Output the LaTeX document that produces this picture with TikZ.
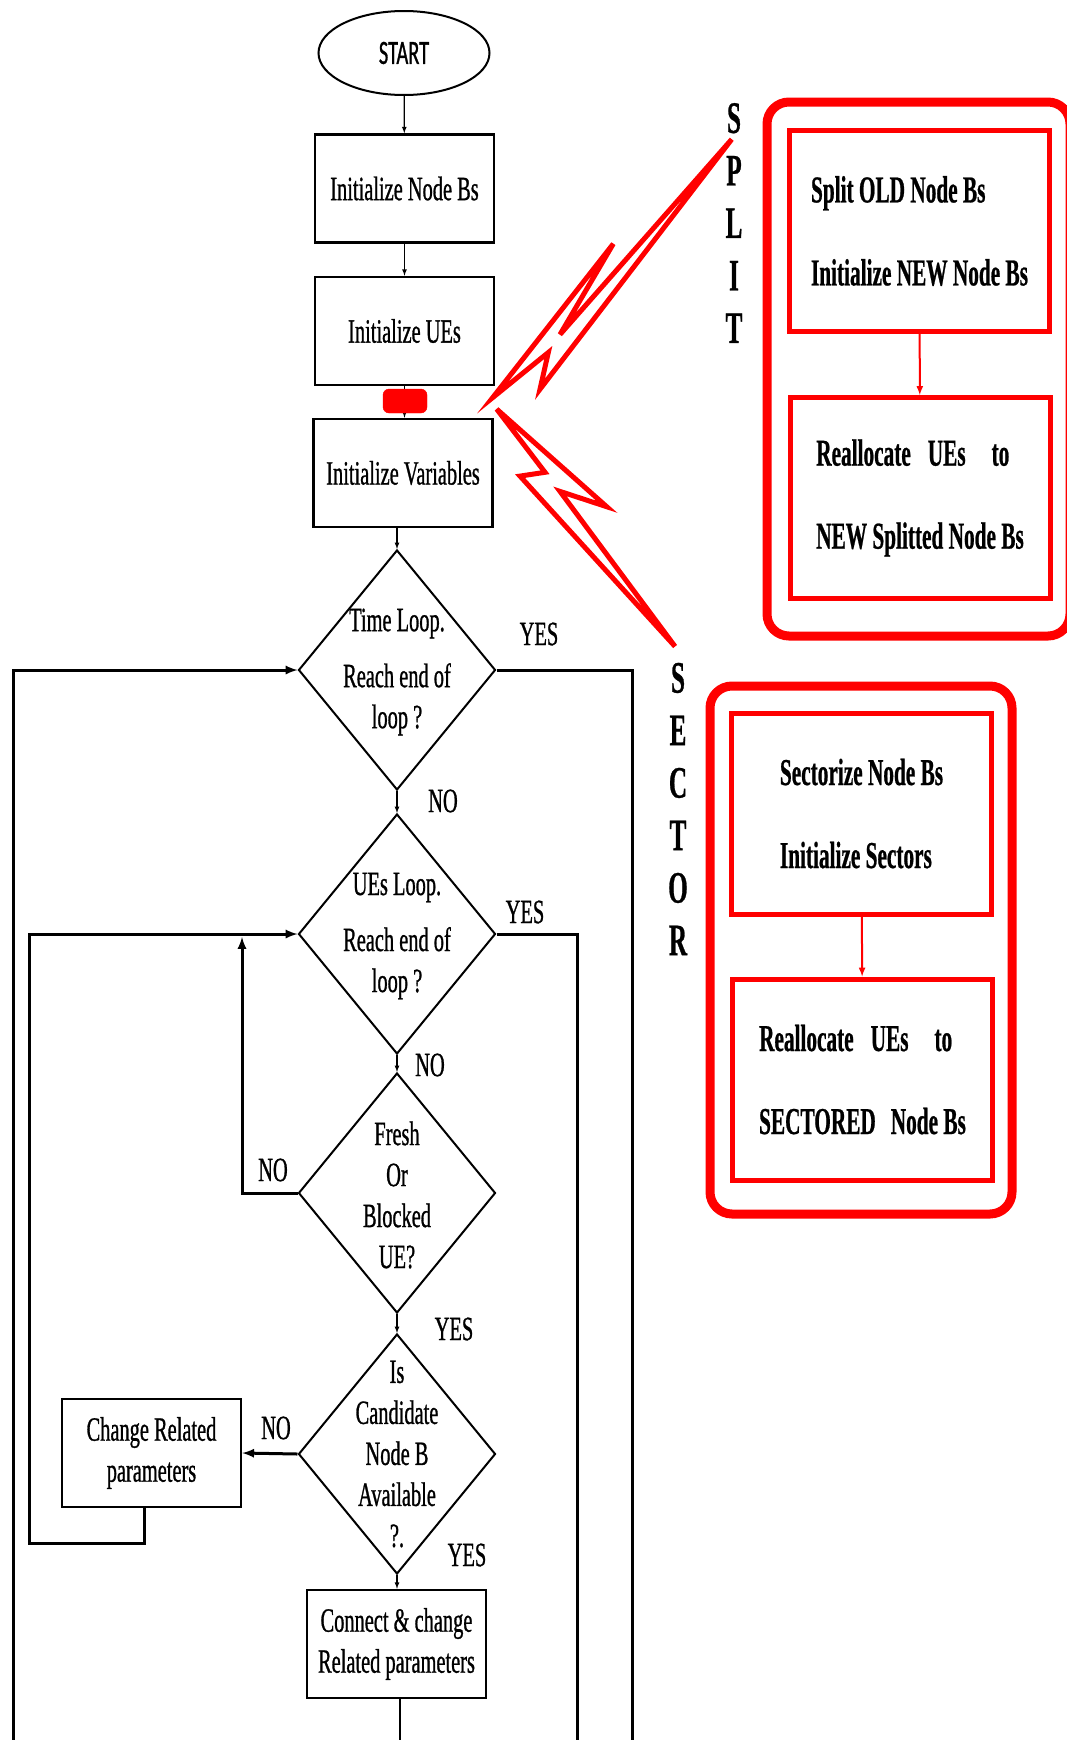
\documentclass[tikz,border=0pt]{standalone}
\usepackage{fontspec}
\newfontfamily\rmcond[FakeStretch=0.6,FakeBold=0.8]{Liberation Serif}
\newfontfamily\bfcond[FakeStretch=0.56,FakeBold=0.6]{Liberation Serif Bold}
\newfontfamily\sfcond[FakeStretch=0.6,FakeBold=0.8]{Carlito}
\usetikzlibrary{shapes.geometric}
\begin{document}
\begin{tikzpicture}[x=1pt,y=-1pt,>=latex,
  txt/.style={font=\rmcond\fontsize{34}{41}\selectfont,align=center,inner sep=0pt},
  blk/.style={txt,draw,line width=2.5pt,minimum width=179pt,minimum height=108pt},
  dec/.style={draw,diamond,line width=2pt,minimum width=197pt,minimum height=240pt,inner sep=0pt},
  rbox/.style={draw=red,line width=5pt,minimum width=260pt,minimum height=201pt,align=left,inner sep=0pt,
    font=\bfcond\fontsize{38}{83}\selectfont},
  letters/.style={align=center,inner sep=0pt,font=\bfcond\fontsize{45}{52.5}\selectfont},
  frame/.style={draw=red,line width=9pt,rounded corners=22pt},
  bolt/.style={draw=red,line width=5pt},
  flow/.style={->,line width=1.2pt},
  loop/.style={line width=3pt}]
\useasboundingbox (0,0) rectangle (1067,1740);
\clip (0,0) rectangle (1067,1740);
% main chain
\node[draw,ellipse,line width=2pt,minimum width=171pt,minimum height=84pt,
  font=\sfcond\fontsize{34}{41}\selectfont] (start) at (404,53) {START};
\node[blk] (ndb) at (404.5,188.5) {Initialize Node Bs};
\node[blk] (ues) at (404.5,331) {Initialize UEs};
\node[blk] (vars) at (403,473) {Initialize Variables};
\node[dec] (d1) at (397,670) {};
\node[dec] (d2) at (397,934) {};
\node[dec] (d3) at (397,1193) {};
\node[dec] (d4) at (397,1454) {};
\node[txt] (t1) at (397,672) {Time Loop.\\[15pt]Reach end of\\loop ?};
\node[txt] (t2) at (397,936) {UEs Loop.\\[15pt]Reach end of\\loop ?};
\node[txt] (t3) at (397,1195) {Fresh\\Or\\Blocked\\UE?};
\node[txt] (t4) at (397,1454) {Is\\Candidate\\Node B\\Available\\?.};
\node[blk] (conn) at (396.5,1644) {Connect \& change\\Related parameters};
\node[blk] (chg) at (151.5,1453) {Change Related\\parameters};
\draw[flow] (start) -- (ndb);
\draw[flow] (ndb) -- (ues);
\draw[flow] (ues.south) -- (ues.south |- vars.north);
\node[fill=red,draw=red,rounded corners=6pt,minimum width=44pt,minimum height=24pt] (blob) at (405,401) {};
\draw[flow] (d1.north |- vars.south) -- (d1.north);
\draw[flow] (d1.south) -- (d2.north);
\draw[flow] (d2.south) -- (d3.north);
\draw[flow] (d3.south) -- (d4.north);
\draw[flow] (d4.south) -- (d4.south |- conn.north);
% loops
\coordinate (outL) at (13,1745);
\coordinate (outR) at (632,1745);
\coordinate (inR) at (577,1745);
\coordinate (inL) at (29,1543);
\coordinate (noUp) at (242,937);
\coordinate (outB) at (400,1745);
\draw[loop,->] (outL) |- (d1.west);
\draw[loop] (d1.east) -| (outR);
\draw[loop] (d2.east) -| (inR);
\draw[loop,->] ([xshift=-7pt]chg.south) |- (inL) |- (d2.west);
\draw[loop,->] (d3.west) -| (noUp);
\draw[loop,->] (d4.west) -- (chg.east);
\draw[line width=1.5pt] (conn.south -| outB) -- (outB);
\node[txt] (y1) at (539,634) {YES};
\node[txt] (n1) at (443,801) {NO};
\node[txt] (y2) at (525,912) {YES};
\node[txt] (n2) at (430,1065) {NO};
\node[txt] (n3) at (273,1170) {NO};
\node[txt] (y3) at (454,1329) {YES};
\node[txt] (n4) at (276,1428) {NO};
\node[txt] (y4) at (467,1555) {YES};
% split and sector
\draw[frame] (767,102) rectangle (1070,636);
\draw[frame] (710,686) rectangle (1012,1214);
\node[rbox] (splA) at (919.5,231) {Split OLD Node Bs\\Initialize NEW Node Bs};
\node[rbox] (splB) at (920,498) {Reallocate\hspace{17pt}UEs\hspace{26pt}to\\NEW Splitted Node Bs};
\node[rbox] (secC) at (861.5,813.5) {Sectorize Node Bs\\Initialize Sectors};
\node[rbox] (secD) at (862.5,1079.5) {Reallocate\hspace{17pt}UEs\hspace{26pt}to\\SECTORED\hspace{15pt}Node Bs};
\draw[->,red,line width=2pt] (splA) -- (splB);
\draw[->,red,line width=2pt] (secC) -- (secD);
\node[letters] (split) at (734,223) {S\\P\\L\\I\\T};
\node[letters] (sector) at (678,809) {S\\E\\C\\T\\O\\R};
\draw[bolt] (492.7,397.6) -- (613.3,243.8) -- (560,334.5) -- (731.7,139.3) -- (540,389.2) -- (548.3,352.5) -- cycle;
\draw[bolt] (496.7,409.1) -- (606.7,506.7) -- (560,491.4) -- (675,646.4) -- (520,476.1) -- (545,472.3) -- cycle;
\end{tikzpicture}
\end{document}
